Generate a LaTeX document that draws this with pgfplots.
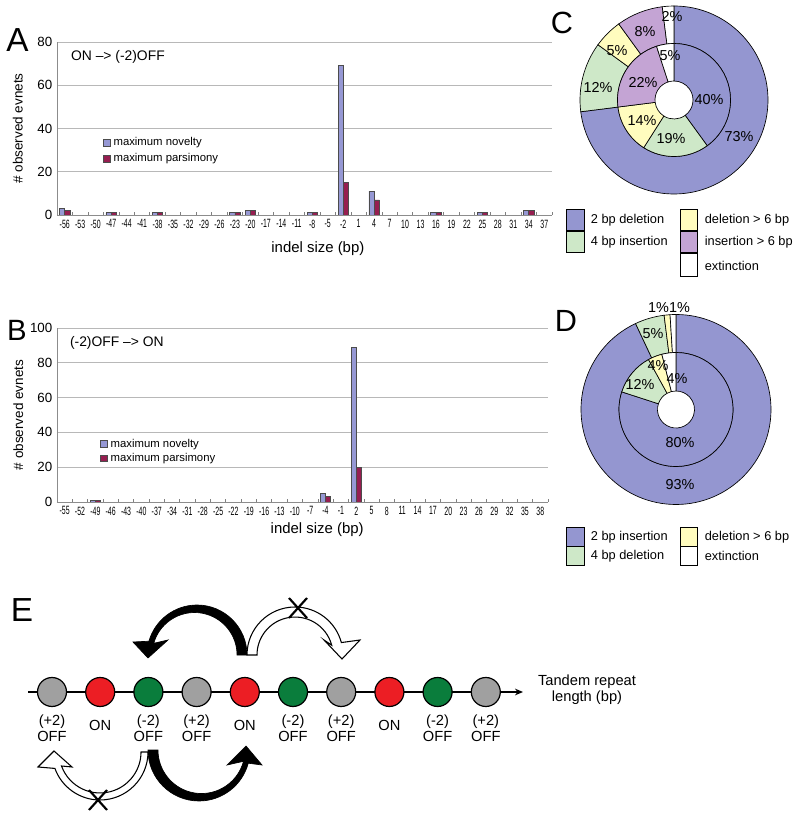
\documentclass[border=0pt]{standalone}
\usepackage{pgfplots}
\pgfplotsset{compat=1.18}
\usetikzlibrary{arrows.meta}
\usepackage{fontspec}
\setmainfont{Liberation Sans}
\definecolor{novc}{RGB}{150,152,212}
\definecolor{parc}{RGB}{150,30,80}
\definecolor{pblue}{RGB}{148,150,208}
\definecolor{pgreen}{RGB}{206,232,200}
\definecolor{pyellow}{RGB}{255,252,190}
\definecolor{ppurple}{RGB}{196,164,212}
\definecolor{cgray}{RGB}{160,160,160}
\definecolor{cred}{RGB}{236,30,36}
\definecolor{cgreen}{RGB}{10,125,60}
\pgfplotsset{indel/.style={
 scale only axis, anchor=south west, ybar=0pt, bar width=1, ymin=0,
 axis x line*=bottom, axis y line*=left,
 axis line style={draw=black!45, line width=0.7pt},
 ymajorgrids, grid style={draw=black!28, line width=0.7pt},
 tick align=inside,
 ytick style={draw=none},
 major x tick style={draw=none},
 minor x tick style={draw=black!50, line width=0.5pt},
 minor tick length=2.5pt,
 /pgf/number format/assume math mode=true,
 xticklabel style={font=\fontsize{9}{9}\selectfont, xscale=0.58},
 yticklabel style={font=\fontsize{10}{10}\selectfont},
 xlabel style={font=\fontsize{11.2}{12}\selectfont, anchor=center},
 ylabel style={font=\fontsize{10.1}{11}\selectfont, anchor=center},
 legend style={draw=none, fill=none, anchor=north west, font=\fontsize{8.5}{9}\selectfont, inner sep=0pt, row sep=0.5pt},
 legend cell align=left,
 legend image code/.code={\draw[#1] (0pt,-2.6pt) rectangle (5.2pt,2.6pt);},
}}
\begin{document}
\begin{tikzpicture}
\useasboundingbox (0,0) rectangle (600pt,613.5pt);
% ---------------- Panel A
\begin{axis}[indel, at={(42.75pt,452.25pt)}, width=371.25pt, height=129.75pt,
 xmin=-57.5, xmax=38.5, ymax=80, ytick={0,20,...,80},
 xtick={-56,-53,...,37}, minor xtick={-57.5,-54.5,...,38.5},
 xlabel={indel size (bp)}, ylabel={\# observed evnets},
 xlabel style={at={(axis description cs:0.527,-0.197)}},
 ylabel style={at={(axis description cs:-0.079,0.5)}},
 legend style={at={(axis description cs:0.093,0.465)}}]
\addplot[fill=novc, draw=black!70, line width=0.5pt] coordinates {(-56,3) (-47,1) (-38,1) (-23,1) (-20,2) (-8,1) (-2,69) (4,11) (16,1) (25,1) (34,2)};
\addplot[fill=parc, draw=black!70, line width=0.5pt] coordinates {(-56,2) (-47,1) (-38,1) (-23,1) (-20,2) (-8,1) (-2,15) (4,7) (16,1) (25,1) (34,2)};
\legend{maximum novelty, maximum parsimony}
\node[anchor=west, font=\fontsize{10.4}{11}\selectfont, inner sep=0pt] at (axis description cs:0.028,0.913) {ON –> (-2)OFF};
\end{axis}
% ---------------- Panel B
\begin{axis}[indel, at={(42.75pt,237pt)}, width=368.25pt, height=130.5pt,
 xmin=-56.5, xmax=39.5, ymax=100, ytick={0,20,...,100},
 xtick={-55,-52,...,38}, minor xtick={-56.5,-53.5,...,39.5},
 xlabel={indel size (bp)}, ylabel={\# observed evnets},
 xlabel style={at={(axis description cs:0.53,-0.16)}},
 ylabel style={at={(axis description cs:-0.079,0.5)}},
 legend style={at={(axis description cs:0.088,0.379)}, row sep=-1pt}]
\addplot[fill=novc, draw=black!70, line width=0.5pt] coordinates {(-49,1) (-4,5) (2,89)};
\addplot[fill=parc, draw=black!70, line width=0.5pt] coordinates {(-49,1) (-4,3) (2,20)};
\legend{maximum novelty, maximum parsimony}
\node[anchor=west, font=\fontsize{10.4}{11}\selectfont, inner sep=0pt] at (axis description cs:0.026,0.914) {(-2)OFF –> ON};
\end{axis}
% ---------------- everything else in pixel coordinates
\begin{scope}[x=0.75pt, y=-0.75pt, shift={(0pt,613.5pt)}]
% panel letters
\node[font=\fontsize{25}{25}\selectfont] at (17.5,40) {A};
\node[font=\fontsize{22}{22}\selectfont] at (17,330) {B};
\node[font=\fontsize{23}{23}\selectfont] at (562,23) {C};
\node[font=\fontsize{23}{23}\selectfont] at (566,321) {D};
\node[font=\fontsize{25}{25}\selectfont] at (22,610) {E};
% ---- pie C
\begin{scope}[shift={(674,100)}]
\foreach \s/\e/\c in {0/73/pblue, 73/85/pgreen, 85/90/pyellow, 90/98/ppurple, 98/100/white}
  \filldraw[fill=\c, draw=black, line width=0.5pt] ({-90+3.6*\s}:94) arc[start angle={-90+3.6*\s}, end angle={-90+3.6*\e}, radius=94] -- ({-90+3.6*\e}:56.5) arc[start angle={-90+3.6*\e}, end angle={-90+3.6*\s}, radius=56.5] -- cycle;
\foreach \s/\e/\c in {0/40/pblue, 40/59/pgreen, 59/73/pyellow, 73/95/ppurple, 95/100/white}
  \filldraw[fill=\c, draw=black, line width=0.5pt] ({-90+3.6*\s}:56.5) arc[start angle={-90+3.6*\s}, end angle={-90+3.6*\e}, radius=56.5] -- ({-90+3.6*\e}:19) arc[start angle={-90+3.6*\e}, end angle={-90+3.6*\s}, radius=19] -- cycle;
\end{scope}
\begin{scope}[font=\fontsize{10.8}{11}\selectfont, inner sep=0pt]
\node at (739,137) {73\%};
\node at (598,88) {12\%};
\node at (617,51) {5\%};
\node at (645,32) {8\%};
\node at (672,17) {2\%};
\node at (709,100) {40\%};
\node at (671,139) {19\%};
\node at (642,121) {14\%};
\node at (643,83) {22\%};
\node at (670,56) {5\%};
\end{scope}
% ---- pie D
\begin{scope}[shift={(676,409.5)}]
\foreach \s/\e/\c in {0/93/pblue, 93/98/pgreen, 98/99/pyellow, 99/100/white}
  \filldraw[fill=\c, draw=black, line width=0.5pt] ({-90+3.6*\s}:95) arc[start angle={-90+3.6*\s}, end angle={-90+3.6*\e}, radius=95] -- ({-90+3.6*\e}:57) arc[start angle={-90+3.6*\e}, end angle={-90+3.6*\s}, radius=57] -- cycle;
\foreach \s/\e/\c in {0/80/pblue, 80/92/pgreen, 92/96/pyellow, 96/100/white}
  \filldraw[fill=\c, draw=black, line width=0.5pt] ({-90+3.6*\s}:57) arc[start angle={-90+3.6*\s}, end angle={-90+3.6*\e}, radius=57] -- ({-90+3.6*\e}:18.5) arc[start angle={-90+3.6*\e}, end angle={-90+3.6*\s}, radius=18.5] -- cycle;
\end{scope}
\begin{scope}[font=\fontsize{10.8}{11}\selectfont, inner sep=0pt]
\node at (680,485) {93\%};
\node at (680,443) {80\%};
\node at (640,385) {12\%};
\node at (658,366) {4\%};
\node at (677,379) {4\%};
\node at (653,334) {5\%};
\node at (669,308) {1\%1\%};
\end{scope}
% ---- legends C and D
\begin{scope}[font=\fontsize{9.6}{10}\selectfont, line width=0.6pt]
\filldraw[fill=pblue] (566,209) rectangle (584,230); \node[anchor=west] at (586,220) {2 bp deletion};
\filldraw[fill=pgreen] (566,231) rectangle (584,252); \node[anchor=west] at (586,242) {4 bp insertion};
\filldraw[fill=pyellow] (680,209) rectangle (697,230); \node[anchor=west] at (700,220) {deletion > 6 bp};
\filldraw[fill=ppurple] (680,231) rectangle (697,252); \node[anchor=west] at (700,242) {insertion > 6 bp};
\filldraw[fill=white] (680,253) rectangle (697,276); \node[anchor=west] at (700,266) {extinction};
\filldraw[fill=pblue] (566,527) rectangle (584,546); \node[anchor=west] at (586,537) {2 bp insertion};
\filldraw[fill=pgreen] (566,546) rectangle (584,565); \node[anchor=west] at (586,556) {4 bp deletion};
\filldraw[fill=pyellow] (680,527) rectangle (697,546); \node[anchor=west] at (700,537) {deletion > 6 bp};
\filldraw[fill=white] (680,546) rectangle (697,565); \node[anchor=west] at (700,556) {extinction};
\end{scope}
% ---- panel E
\draw[line width=1.5pt, -{Stealth[length=6pt, width=5pt]}] (28,692) -- (523,692);
\foreach \i/\c in {0/cgray,1/cred,2/cgreen,3/cgray,4/cred,5/cgreen,6/cgray,7/cred,8/cgreen,9/cgray}
  \filldraw[fill=\c, draw=black, line width=0.9pt] ({52+48.2*\i},692) circle[radius=14.5];
\begin{scope}[font=\fontsize{11}{12}\selectfont, align=center, inner sep=0pt]
\foreach \i/\t in {0/{(+2)\\OFF}, 2/{(-2)\\OFF}, 3/{(+2)\\OFF}, 5/{(-2)\\OFF}, 6/{(+2)\\OFF}, 8/{(-2)\\OFF}, 9/{(+2)\\OFF}}
  \node at ({52+48.2*\i},728) {\t};
\foreach \i in {1,4,7}
  \node at ({52+48.2*\i},725) {ON};
\node at (587,690) {Tandem repeat\\length (bp)};
\end{scope}
% top arrows
\filldraw[fill=black, draw=black, line width=0.5pt] (247,655) arc[start angle=0, end angle=-164, radius=50] -- (133,642) -- (148,658) -- (168,640) -- (153.7,643.3) arc[start angle=-164, end angle=0, radius=42.5] -- cycle;
\filldraw[fill=white, draw=black, line width=0.8pt] (247,655) arc[start angle=180, end angle=345, radius=48] -- (360,640) -- (342,659) -- (324,640) -- (331.7,645.2) arc[start angle=345, end angle=180, radius=38] -- cycle;
\draw[line width=1.6pt] (289,598) -- (307,618) (307,598) -- (289,618);
% bottom arrows
\filldraw[fill=white, draw=black, line width=0.8pt] (148,752) arc[start angle=0, end angle=160, radius=48] -- (38,767) -- (54,751) -- (72,767) -- (61.5,766) arc[start angle=160, end angle=0, radius=41] -- cycle;
\filldraw[fill=black, draw=black, line width=0.5pt] (148,750) arc[start angle=180, end angle=15, radius=51] -- (262,765) -- (246,746) -- (227,765) -- (243.5,761.3) arc[start angle=15, end angle=180, radius=43.5] -- cycle;
\draw[line width=1.6pt] (89,790) -- (107,810) (107,790) -- (89,810);
\end{scope}
\end{tikzpicture}
\end{document}
